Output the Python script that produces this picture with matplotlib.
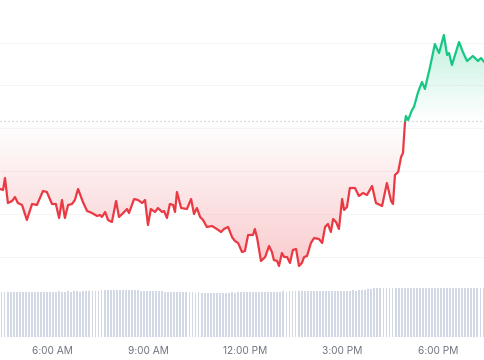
import numpy as np
import matplotlib.pyplot as plt
from matplotlib.colors import to_rgb

# price line (hours of day, price units)
hours = [4.39, 4.48, 4.54, 4.63, 4.76, 4.85, 4.94, 5.07, 5.22, 5.38, 5.53, 5.72, 5.84, 6.00,
         6.12, 6.22, 6.31, 6.40, 6.50, 6.62, 6.71, 6.81, 6.96, 7.09, 7.24, 7.40, 7.49, 7.55,
         7.65, 7.74, 7.86, 7.99, 8.08, 8.21, 8.33, 8.39, 8.55, 8.67, 8.80, 8.89, 8.98, 9.07,
         9.20, 9.29, 9.42, 9.48, 9.57, 9.66, 9.76, 9.82, 9.88, 10.01, 10.19, 10.32, 10.41,
         10.50, 10.60, 10.69, 10.81, 10.97, 11.12, 11.25, 11.34, 11.47, 11.59, 11.68, 11.78,
         11.90, 11.99, 12.09, 12.24, 12.30, 12.37, 12.49, 12.62, 12.74, 12.83, 12.89, 12.99,
         13.05, 13.14, 13.21, 13.30, 13.39, 13.48, 13.58, 13.67, 13.76, 13.83, 13.92, 14.04,
         14.14, 14.29, 14.39, 14.48, 14.57, 14.66, 14.73, 14.82, 14.91, 15.01, 15.07, 15.16,
         15.25, 15.41, 15.53, 15.66, 15.78, 15.94, 16.06, 16.25, 16.40, 16.53, 16.59, 16.65,
         16.75, 16.84, 16.90, 16.96, 16.99, 17.06, 17.18, 17.24, 17.37, 17.49, 17.58, 17.74,
         17.89, 18.02, 18.17, 18.27, 18.33, 18.42, 18.64, 18.76, 18.89, 19.07, 19.23, 19.32,
         19.45]
price = [111, 110, 122, 97, 99, 103, 97, 95, 80, 96, 95, 109, 108, 96,
         96, 82, 100, 82, 95, 96, 100, 111, 98, 89, 87, 84, 85, 83,
         88, 80, 78, 99, 83, 87, 91, 87, 101, 100, 97, 100, 75, 91,
         88, 92, 88, 89, 82, 96, 95, 88, 108, 92, 91, 101, 86,
         92, 83, 80, 73, 74, 71, 68, 71, 73, 63, 59, 57,
         48, 49, 65, 65, 71, 62, 39, 43, 54, 48, 40, 39,
         34, 47, 43, 43, 37, 50, 51, 34, 37, 43, 44, 57,
         62, 61, 57, 73, 76, 68, 81, 78, 71, 101, 90, 93,
         112, 112, 104, 107, 105, 114, 97, 94, 117, 99, 96, 125,
         128, 143, 147, 177, 184, 180, 190, 193, 208, 218, 211, 233,
         256, 247, 265, 245, 247, 235, 258, 248, 239, 244, 239, 242,
         237]
open_price = 179

# rolling volume bars
volume = [45.0, 45.2, 44.8, 45.1, 45.3, 44.9, 45.0, 45.2, 45.1, 44.8, 45.0, 45.3, 45.2, 45.4,
          45.1, 45.3, 45.5, 45.2, 45.4, 45.6, 45.3, 45.5, 45.7, 45.4, 45.6, 45.8, 45.5, 45.9,
          46.0, 45.8, 46.2, 46.4, 46.3, 46.6, 46.8, 46.7, 47.0, 46.9, 47.1, 46.8, 47.0, 46.9,
          46.7, 46.8, 46.6, 46.7, 46.4, 46.5, 46.3, 46.2, 46.0, 45.9, 45.7, 45.8, 45.5, 45.4,
          45.3, 45.1, 45.0, 44.9, 44.8, 44.7, 44.8, 44.6, 44.5, 44.6, 44.4, 44.5, 44.3, 44.4,
          44.2, 44.3, 44.4, 44.3, 44.5, 44.4, 44.6, 44.5, 44.7, 44.6, 44.8, 44.7, 44.9, 45.0,
          44.9, 45.1, 45.0, 45.2, 45.3, 45.2, 45.4, 45.5, 45.4, 45.6, 45.5, 45.7, 45.6, 45.8,
          45.7, 45.8, 45.9, 45.8, 46.0, 45.9, 46.1, 46.0, 46.1, 46.2, 46.1, 46.3, 46.2, 46.4,
          46.3, 46.5, 46.4, 46.5, 46.6, 46.5, 46.7, 46.9, 47.3, 47.8, 48.4, 48.9, 49.1, 49.2,
          49.0, 49.1, 49.3, 49.2, 49.0, 49.1, 48.9, 49.0, 48.8, 48.9, 49.0, 48.9, 49.1, 49.0,
          49.2, 49.1, 49.0, 49.2, 49.1, 49.3, 49.2, 49.1, 49.2, 49.0, 49.1, 49.2, 49.1, 49.0,
          49.1, 49.2, 49.0, 49.1, 49.2, 49.1]

tick_hours = [6, 9, 12, 15, 18]
tick_labels = ["6:00 AM", "9:00 AM", "12:00 PM", "3:00 PM", "6:00 PM"]

RED = "#ea3943"
GREEN = "#16c784"
x0, x1 = 4.385, 19.447

plt.rcParams['font.family'] = ['Inter', 'DejaVu Sans']

fig = plt.figure(figsize=(4.85, 3.6), dpi=100)
ax = fig.add_axes([0, 0, 1, 1])
ax.set_axis_off()

t = np.array(hours)
p = np.array(price, dtype=float)

# split the line where it crosses the open price
k = int(np.argmax(p > open_price))
tc = t[k - 1] + (open_price - p[k - 1]) * (t[k] - t[k - 1]) / (p[k] - p[k - 1])
t_red = np.append(t[:k], tc)
p_red = np.append(p[:k], open_price)
t_grn = np.insert(t[k:], 0, tc)
p_grn = np.insert(p[k:], 0, open_price)

# faint grid
for g in [257, 215, 172, 129, 86, 43]:
    ax.axhline(g, color="#f5f5f5", lw=0.7, zorder=0)


def gradient_fill(tt, pp, color, far, max_alpha):
    poly = ax.fill_between(tt, pp, open_price, color="none", lw=0)
    lo, hi = sorted([far, open_price])
    grad = np.zeros((200, 1, 4))
    grad[:, 0, :3] = to_rgb(color)
    a = np.linspace(0, 1, 200)
    grad[:, 0, 3] = max_alpha * (a if far > open_price else a[::-1])
    im = ax.imshow(grad, extent=[x0, x1, lo, hi], origin="lower", aspect="auto", zorder=1)
    im.set_clip_path(poly.get_paths()[0], transform=ax.transData)


gradient_fill(t_red, p_red, RED, min(price), 0.26)
gradient_fill(t_grn, p_grn, GREEN, max(price), 0.26)

ax.plot(t_red, p_red, color=RED, lw=1.6, zorder=3, solid_joinstyle="round")
ax.plot(t_grn, p_grn, color=GREEN, lw=1.6, zorder=3, solid_joinstyle="round")
ax.axhline(open_price, color="#c4c4c4", lw=0.8, ls=(0, (1.2, 2.4)), zorder=2)

ax.set_xlim(x0, x1)
ax.set_ylim(-60, 300)

# volume panel
axv = fig.add_axes([0, 23 / 360, 1, 50 / 360])
axv.patch.set_alpha(0)
step = (x1 - x0) / len(volume)
vt = x0 + step * (np.arange(len(volume)) + 0.5)
axv.bar(vt, volume, width=step * 0.62, color="#d3d9e4", lw=0)
axv.set_xlim(x0, x1)
axv.set_ylim(0, 50)
for s in axv.spines.values():
    s.set_visible(False)
axv.set_yticks([])
axv.set_xticks(tick_hours)
axv.set_xticklabels(tick_labels)
axv.tick_params(axis="x", length=0, pad=6.5, labelsize=7.3, labelcolor="#6f7480")

fig.savefig("out.png", dpi=100)
